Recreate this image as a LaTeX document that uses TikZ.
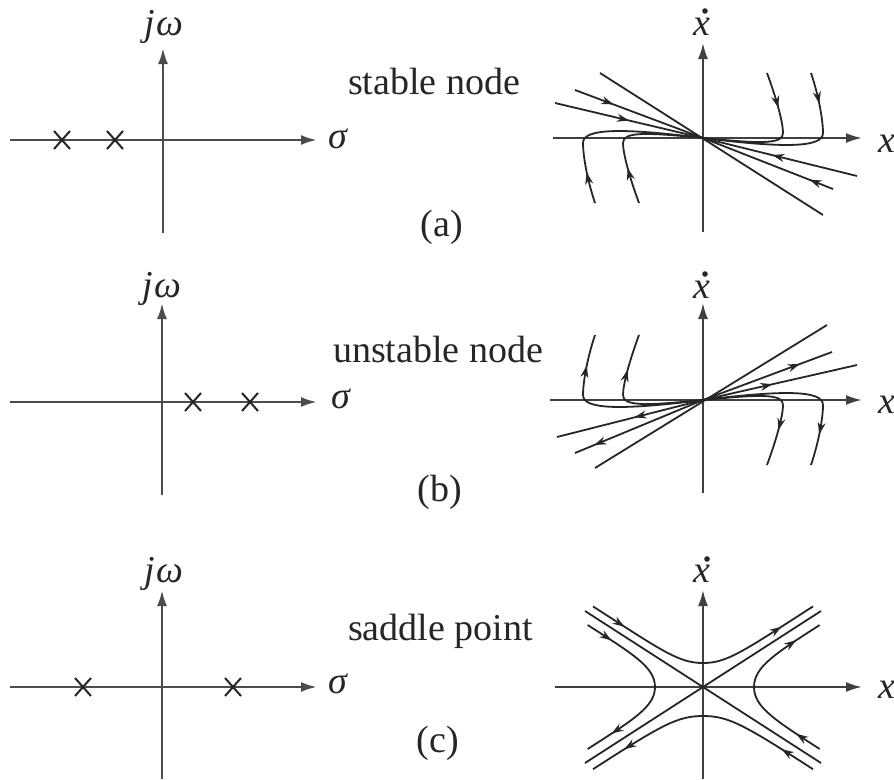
\documentclass[tikz,border=0pt]{standalone}
\usepackage{fontspec}
\setmainfont{Liberation Serif}
\usetikzlibrary{arrows.meta,decorations.markings}
\tikzset{
 axisL/.style={line width=2.6pt, draw=black!70, -{Latex[length=16pt,width=10pt]}},
 axisR/.style={line width=2.2pt, draw=black!75, -{Latex[length=16pt,width=10pt]}},
 traj/.style={line width=1.8pt, draw=black!85},
 pole/.style={line width=2pt, draw=black!85},
 lbl/.style={inner sep=0pt, font=\fontsize{38}{40}\selectfont, text=black!85},
 mlbl/.style={inner sep=0pt, font=\fontsize{38}{40}\selectfont\itshape, text=black!85},
 dotmark/.style={fill=black!85, draw=none},
 arr/.style={postaction={decorate, decoration={markings, mark=at position #1 with {\arrow{Stealth[length=12pt,width=8pt]}}}}},
}
\newcommand{\polemark}[1]{\draw[pole] (#1) +(-8,-9) -- +(8,9) +(-8,9) -- +(8,-9);}
\begin{document}
\begin{tikzpicture}[x=1pt,y=-1pt]
\fill[white] (0,0) rectangle (894,779);
\useasboundingbox (0,0) rectangle (894,779);

% ---------------- (a) ----------------
\draw[axisL] (163,233) -- (163,48);
\draw[axisL] (10,140) -- (317,140);
\polemark{62,140}
\polemark{115,140}
\node[mlbl,anchor=base] (jwa) at (164,35) {j\kern2ptω};
\node[mlbl,anchor=base] (sga) at (338,148) {σ};
\node[lbl,anchor=base west] (ta) at (348,94) {stable node};
\node[lbl,anchor=base] (capa) at (442,236) {(a)};
\draw[axisR] (703,232) -- (703,43);
\draw[axisR] (553,138) -- (862,138);
\node[mlbl,anchor=base] (xda) at (702,35) {x};
\fill[dotmark] (705,11) circle (2.8);
\node[mlbl,anchor=base west] (xa) at (878,152) {x};
\begin{scope}[shift={(703,138)}]
 \draw[traj] (-103,-65) -- (120,77);
 \draw[traj,arr=0.3] (-128,-48) -- (0,0);
 \draw[traj,arr=0.18] (130,51) -- (0,0);
 \draw[traj,arr=0.5] (-148,-35) -- (0,0);
 \draw[traj,arr=0.55] (154,38) -- (0,0);
 \draw[traj,arr=0.25] (64,-65) .. controls (74,-38) and (80,-15) .. (80,-5) .. controls (80,6) and (60,6) .. (0,0);
 \draw[traj,arr=0.17] (108,-65) .. controls (117,-38) and (120,-15) .. (120,-5) .. controls (120,10) and (80,10) .. (0,0);
 \begin{scope}[rotate=180]
 \draw[traj,arr=0.25] (64,-65) .. controls (74,-38) and (80,-15) .. (80,-5) .. controls (80,6) and (60,6) .. (0,0);
 \draw[traj,arr=0.17] (108,-65) .. controls (117,-38) and (120,-15) .. (120,-5) .. controls (120,10) and (80,10) .. (0,0);
 \end{scope}
\end{scope}

% ---------------- (b) ----------------
\draw[axisL] (162,495) -- (162,303);
\draw[axisL] (10,402) -- (317,402);
\polemark{193,402}
\polemark{250,402}
\node[mlbl,anchor=base] (jwb) at (162,297) {j\kern2ptω};
\node[mlbl,anchor=base] (sgb) at (341,408) {σ};
\node[lbl,anchor=base west] (tb) at (333,362) {unstable node};
\node[lbl,anchor=base] (capb) at (440,501) {(b)};
\draw[axisR] (703,493) -- (703,303);
\draw[axisR] (550,400) -- (862,400);
\node[mlbl,anchor=base] (xdb) at (702,298) {x};
\fill[dotmark] (705,274) circle (2.8);
\node[mlbl,anchor=base west] (xb) at (878,413) {x};
\begin{scope}[shift={(703,400)}]
 \draw[traj] (-108,68) -- (124,-75);
 \draw[traj,arr=0.75] (0,0) -- (129,-48);
 \draw[traj,arr=0.85] (0,0) -- (-128,53);
 \draw[traj,arr=0.45] (0,0) -- (154,-35);
 \draw[traj,arr=0.47] (0,0) -- (-146,37);
 \begin{scope}[xscale=-1]
 \draw[traj,arr=0.75] (0,0) .. controls (60,6) and (80,6) .. (80,-5) .. controls (80,-15) and (74,-38) .. (64,-65);
 \draw[traj,arr=0.83] (0,0) .. controls (80,10) and (120,10) .. (120,-5) .. controls (120,-15) and (117,-38) .. (108,-65);
 \end{scope}
 \begin{scope}[yscale=-1]
 \draw[traj,arr=0.75] (0,0) .. controls (60,6) and (80,6) .. (80,-5) .. controls (80,-15) and (74,-38) .. (64,-65);
 \draw[traj,arr=0.83] (0,0) .. controls (80,10) and (120,10) .. (120,-5) .. controls (120,-15) and (117,-38) .. (108,-65);
 \end{scope}
\end{scope}

% ---------------- (c) ----------------
\draw[axisL] (162,779) -- (162,590);
\draw[axisL] (10,687) -- (317,687);
\polemark{83,687}
\polemark{233,687}
\node[mlbl,anchor=base] (jwc) at (164,582) {j\kern2ptω};
\node[mlbl,anchor=base] (sgc) at (338,693) {σ};
\node[lbl,anchor=base west] (tc) at (348,640) {saddle point};
\node[lbl,anchor=base] (capc) at (438,752) {(c)};
\draw[axisR] (703,779) -- (703,590);
\draw[axisR] (555,687) -- (862,687);
\node[mlbl,anchor=base] (xdc) at (702,582) {x};
\fill[dotmark] (707,559) circle (2.8);
\node[mlbl,anchor=base west] (xc) at (878,698) {x};
\begin{scope}[shift={(703,687)}]
 \draw[traj] (-118,-76) -- (118,76);
 \draw[traj] (-118,76) -- (118,-76);
 % top (left to right)
 \draw[traj,arr=0.15,arr=0.85] (-110,-80.6) .. controls (-40,-35.5) and (-24,-24) .. (0,-24) .. controls (24,-24) and (40,-35.5) .. (110,-80.6);
 % bottom (right to left)
 \draw[traj,arr=0.15,arr=0.85] (110,82.2) .. controls (40,37) and (25,29) .. (0,29) .. controls (-25,29) and (-40,37) .. (-110,82.2);
 % right (upward)
 \draw[traj,arr=0.15,arr=0.85] (116.7,62) .. controls (71.7,33) and (51,20) .. (51,0) .. controls (51,-20) and (71.7,-33) .. (116.7,-62);
 % left (downward)
 \draw[traj,arr=0.15,arr=0.85] (-115.3,-62) .. controls (-70.3,-33) and (-48,-20) .. (-48,0) .. controls (-48,20) and (-70.3,33) .. (-115.3,62);
\end{scope}
\end{tikzpicture}
\end{document}
